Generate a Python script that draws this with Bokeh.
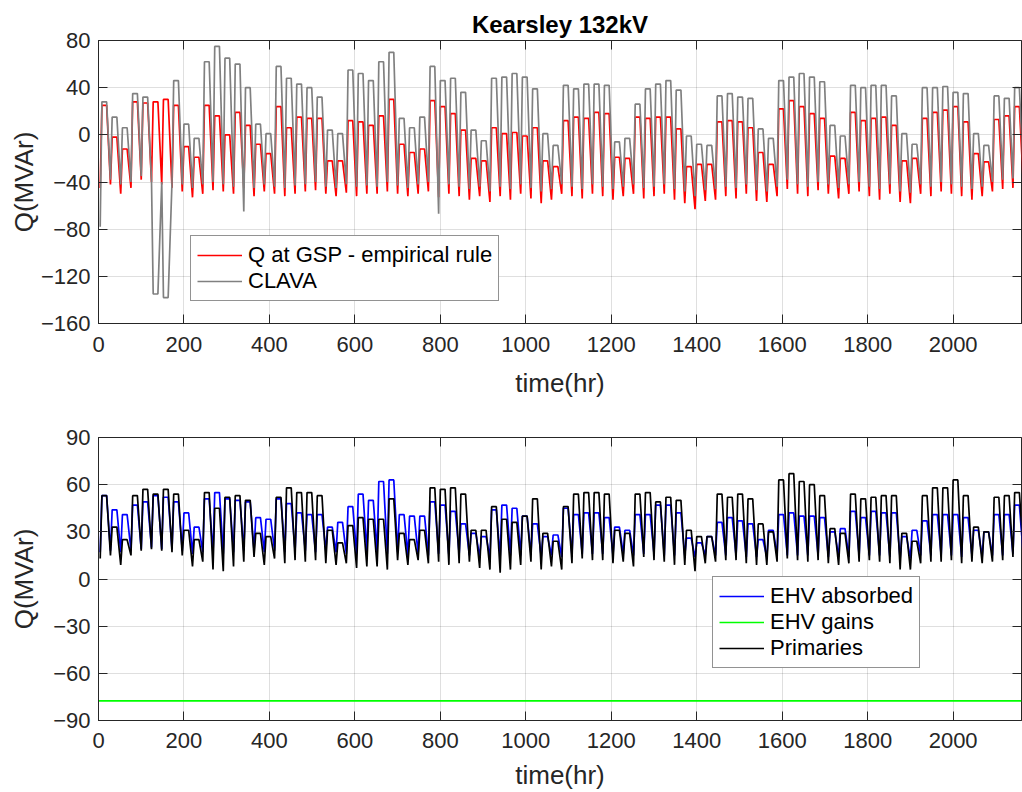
from bokeh.plotting import figure
from bokeh.layouts import column
from bokeh.models import Range1d, LinearAxis, FixedTicker, Legend, LegendItem
from bokeh.embed import file_html
from bokeh.resources import INLINE

# ---------------- data (one value per day) ----------------
x_ticks = [0, 200, 400, 600, 800, 1000, 1200, 1400, 1600, 1800, 2000]
top_y_ticks = [-160, -120, -80, -40, 0, 40, 80]
bot_y_ticks = [-90, -60, -30, 0, 30, 60, 90]
n_days = 90

# Q at GSP - empirical rule (red): daily peak / night trough
red_peak = [25, -2, -12, 28, 27, 28, 30, 25, -10, -19,
            25, 16, 0, 19, 8, -8, -16, 24, 6, 15,
            14, 14, -22, -22, 12, 11, 8, 16, 30, -8,
            -15, -12, 29, 24, 18, 4, -20, -22, 6, 1,
            2, -1, 6, -22, -27, 12, 15, 14, 19, 18,
            -19, -20, 15, 14, 15, 15, 5, -27, -25, -25,
            11, 12, 11, 6, -15, -25, 22, 29, 24, 18,
            14, -18, -20, 19, 12, 14, 15, 8, -22, -20,
            14, 19, 21, 24, 11, -16, -23, 13, 16, 24]
red_trough = [-45, -42, -50, -45, -38, -40, -42, -45, -48, -53,
              -50, -47, -48, -50, -45, -52, -48, -50, -52, -50,
              -48, -47, -50, -52, -49, -52, -50, -50, -48, -50,
              -52, -50, -48, -53, -50, -52, -55, -52, -57, -52,
              -55, -50, -54, -58, -55, -50, -52, -54, -50, -52,
              -55, -52, -50, -54, -52, -50, -55, -58, -63, -56,
              -55, -52, -54, -50, -56, -57, -52, -46, -50, -52,
              -47, -50, -54, -50, -48, -52, -55, -50, -57, -58,
              -50, -52, -48, -50, -52, -55, -52, -48, -46, -45,
              -40]

# CLAVA (grey)
clava_peak = [28, 15, 6, 35, 32, -135, -138, 46, 9, -3,
              62, 75, 65, 60, 40, 9, 1, 58, 48, 43,
              40, 32, 4, 1, 55, 52, 46, 62, 70, 14,
              6, 15, 58, 46, 48, 36, 4, -5, 48, 49,
              52, 49, 39, 1, -9, 42, 39, 43, 43, 42,
              -6, -3, 26, 39, 43, 46, 38, -1, -8, -9,
              33, 35, 32, 31, 5, -3, 46, 49, 52, 49,
              45, 8, -1, 42, 40, 42, 42, 33, 1, -8,
              40, 40, 41, 36, 35, 1, -9, 33, 31, 40]
clava_trough = [-78, -38, -42, -40, -35, -38, -40, -40, -42, -45,
                -42, -40, -42, -44, -65, -45, -42, -44, -45, -43,
                -42, -40, -44, -45, -42, -44, -43, -44, -40, -43,
                -45, -42, -40, -67, -42, -44, -46, -44, -48, -44,
                -46, -42, -45, -48, -46, -42, -44, -46, -42, -44,
                -46, -44, -42, -45, -44, -42, -46, -48, -52, -47,
                -46, -44, -45, -42, -47, -48, -44, -38, -42, -44,
                -40, -42, -45, -42, -40, -44, -46, -42, -48, -49,
                -42, -44, -40, -42, -44, -46, -44, -40, -38, -37,
                -30]

# EHV absorbed (blue)
ehv_abs_peak = [53, 44, 41, 47, 49, 53, 52, 49, 42, 33,
                51, 55, 51, 50, 49, 39, 38, 51, 48, 42,
                41, 41, 33, 36, 46, 54, 50, 62, 63, 41,
                40, 40, 49, 47, 43, 35, 29, 27, 44, 47,
                45, 40, 35, 27, 28, 45, 41, 42, 42, 39,
                33, 31, 41, 41, 47, 47, 42, 26, 23, 27,
                36, 39, 37, 35, 25, 31, 41, 42, 40, 40,
                39, 30, 32, 43, 39, 43, 42, 42, 27, 31,
                37, 41, 41, 41, 39, 31, 30, 41, 41, 47]
ehv_abs_trough = [17, 18, 17, 18, 19, 20, 19, 19, 18, 16,
                  17, 16, 16, 17, 18, 18, 17, 18, 17, 18,
                  18, 17, 18, 17, 16, 16, 17, 17, 16, 17,
                  15, 16, 15, 16, 15, 16, 15, 14, 14, 14,
                  15, 15, 16, 14, 15, 14, 15, 16, 16, 16,
                  15, 16, 15, 16, 16, 15, 15, 15, 14, 15,
                  15, 15, 15, 14, 14, 14, 15, 15, 15, 15,
                  15, 14, 14, 14, 15, 15, 15, 14, 13, 13,
                  15, 15, 15, 15, 14, 15, 14, 15, 15, 16,
                  16]

# Primaries (black)
prim_peak = [53, 33, 25, 53, 57, 54, 57, 54, 31, 25,
             55, 45, 52, 53, 50, 29, 27, 52, 58, 55,
             55, 53, 31, 23, 34, 39, 38, 38, 51, 29,
             25, 31, 58, 57, 58, 54, 31, 31, 46, 38,
             36, 40, 51, 29, 24, 46, 54, 55, 55, 54,
             31, 29, 54, 55, 49, 52, 50, 31, 27, 27,
             54, 52, 54, 51, 35, 30, 63, 67, 62, 60,
             53, 32, 29, 54, 51, 52, 53, 53, 29, 24,
             53, 58, 58, 63, 53, 33, 30, 52, 53, 55]
prim_trough = [13, 15, 9, 15, 18, 19, 18, 17, 15, 8,
               11, 6, 5, 8, 11, 14, 9, 13, 10, 12,
               11, 12, 10, 9, 10, 7, 8, 8, 6, 12,
               9, 12, 10, 11, 9, 10, 11, 7, 6, 4,
               6, 9, 11, 6, 8, 6, 10, 13, 12, 12,
               10, 11, 8, 14, 12, 11, 9, 9, 5, 10,
               11, 12, 12, 10, 9, 9, 11, 13, 12, 11,
               12, 10, 9, 10, 11, 12, 11, 10, 6, 6,
               10, 11, 11, 12, 10, 11, 10, 11, 12, 14,
               18]

# EHV gains (green): constant level
ehv_gains_level = -77.5

# ---------------------------------------------------------------------------------
FONT = "Liberation Sans"
AXC = "#262626"


def daily_series(peaks, troughs):
    hours, vals = [], []
    for d in range(len(peaks)):
        hours += [24 * d + 4, 24 * d + 8, 24 * d + 19]
        vals += [troughs[d], peaks[d], peaks[d]]
    hours.append(24 * len(peaks) + 4)
    vals.append(troughs[len(peaks)])
    return hours, vals


def style(p, yticks, xlab_standoffs, ylab_standoff):
    p.outline_line_color = AXC
    p.outline_line_width = 1
    p.background_fill_color = "white"
    p.border_fill_color = "white"
    for ax, ticks in ((p.xaxis[0], x_ticks), (p.yaxis[0], yticks)):
        ax.ticker = FixedTicker(ticks=ticks)
        ax.minor_tick_line_color = None
        ax.major_tick_in = 9
        ax.major_tick_out = 0
        ax.major_tick_line_color = AXC
        ax.axis_line_color = AXC
        ax.major_label_text_font = FONT
        ax.major_label_text_font_size = "22px"
        ax.major_label_text_color = AXC
        ax.axis_label_text_font = FONT
        ax.axis_label_text_font_size = "26px"
        ax.axis_label_text_font_style = "normal"
        ax.axis_label_text_color = AXC
    p.xaxis[0].axis_label = "time(hr)"
    p.yaxis[0].axis_label = "Q(MVAr)"
    p.xaxis[0].major_label_standoff = xlab_standoffs[0]
    p.xaxis[0].axis_label_standoff = xlab_standoffs[1]
    p.yaxis[0].major_label_standoff = 8
    p.yaxis[0].axis_label_standoff = ylab_standoff
    p.xgrid.ticker = FixedTicker(ticks=x_ticks)
    p.ygrid.ticker = FixedTicker(ticks=yticks)
    for g in (p.xgrid, p.ygrid):
        g.grid_line_color = AXC
        g.grid_line_alpha = 0.15
        g.grid_line_width = 1
    # mirrored ticks on top and right (box on); their labels are not drawn
    for place, ticks in (("above", x_ticks), ("right", yticks)):
        ax = LinearAxis(ticker=FixedTicker(ticks=ticks))
        ax.major_label_overrides = {t: "" for t in ticks}
        ax.major_label_text_font_size = "1px"
        ax.major_label_text_color = None
        ax.major_label_standoff = 0
        ax.major_tick_in = 9
        ax.major_tick_out = 0
        ax.minor_tick_line_color = None
        ax.major_tick_line_color = AXC
        ax.axis_line_color = None
        p.add_layout(ax, place)


def style_legend(leg):
    leg.label_text_font = FONT
    leg.label_text_font_size = "22px"
    leg.label_text_color = "black"
    leg.border_line_color = AXC
    leg.border_line_width = 1
    leg.background_fill_color = "white"
    leg.background_fill_alpha = 1
    leg.glyph_width = 45
    leg.glyph_height = 24
    leg.label_height = 24
    leg.label_standoff = 6
    leg.padding = 6
    leg.spacing = 0
    leg.margin = 0


# ------------------------------- top panel --------------------------------------
p1 = figure(width=1022, height=400, x_range=Range1d(0, 24 * n_days), y_range=Range1d(-160, 80),
            output_backend="svg", toolbar_location=None,
            min_border_left=98, min_border_right=1, min_border_top=40, min_border_bottom=77,
            title="Kearsley 132kV")
p1.title.align = "center"
p1.title.text_font = FONT
p1.title.text_font_size = "24px"
p1.title.text_font_style = "bold"
p1.title.text_color = "black"
p1.title.standoff = 5
style(p1, top_y_ticks, (13, 13), -1)

hx, hy = daily_series(red_peak, red_trough)
r_red = p1.line(hx, hy, line_color="#ff0000", line_width=1.7)
hx, hy = daily_series(clava_peak, clava_trough)
r_gray = p1.line(hx, hy, line_color="#808080", line_width=1.7)

leg1 = Legend(items=[LegendItem(label="Q at GSP - empirical rule", renderers=[r_red]),
                     LegendItem(label="CLAVA", renderers=[r_gray])],
              location=(92, 22))
style_legend(leg1)
p1.add_layout(leg1)

# ------------------------------ bottom panel ------------------------------------
p2 = figure(width=1022, height=392, x_range=Range1d(0, 24 * n_days), y_range=Range1d(-90, 90),
            output_backend="svg", toolbar_location=None,
            min_border_left=98, min_border_right=1, min_border_top=37, min_border_bottom=71)
style(p2, bot_y_ticks, (12, 9), 11)

hx, hy = daily_series(ehv_abs_peak, ehv_abs_trough)
r_blue = p2.line(hx, hy, line_color="#0000ff", line_width=1.7)
span_hours = [0, 24 * n_days]
r_green = p2.line(span_hours, [ehv_gains_level] * len(span_hours), line_color="#00ff00", line_width=1.7)
hx, hy = daily_series(prim_peak, prim_trough)
r_black = p2.line(hx, hy, line_color="#000000", line_width=1.7)

leg2 = Legend(items=[LegendItem(label="EHV absorbed", renderers=[r_blue]),
                     LegendItem(label="EHV gains", renderers=[r_green]),
                     LegendItem(label="Primaries", renderers=[r_black])],
              location=(614, 52))
style_legend(leg2)
p2.add_layout(leg2)

layout = column(p1, p2, spacing=0)
open("out.html", "w").write(file_html(layout, INLINE))
